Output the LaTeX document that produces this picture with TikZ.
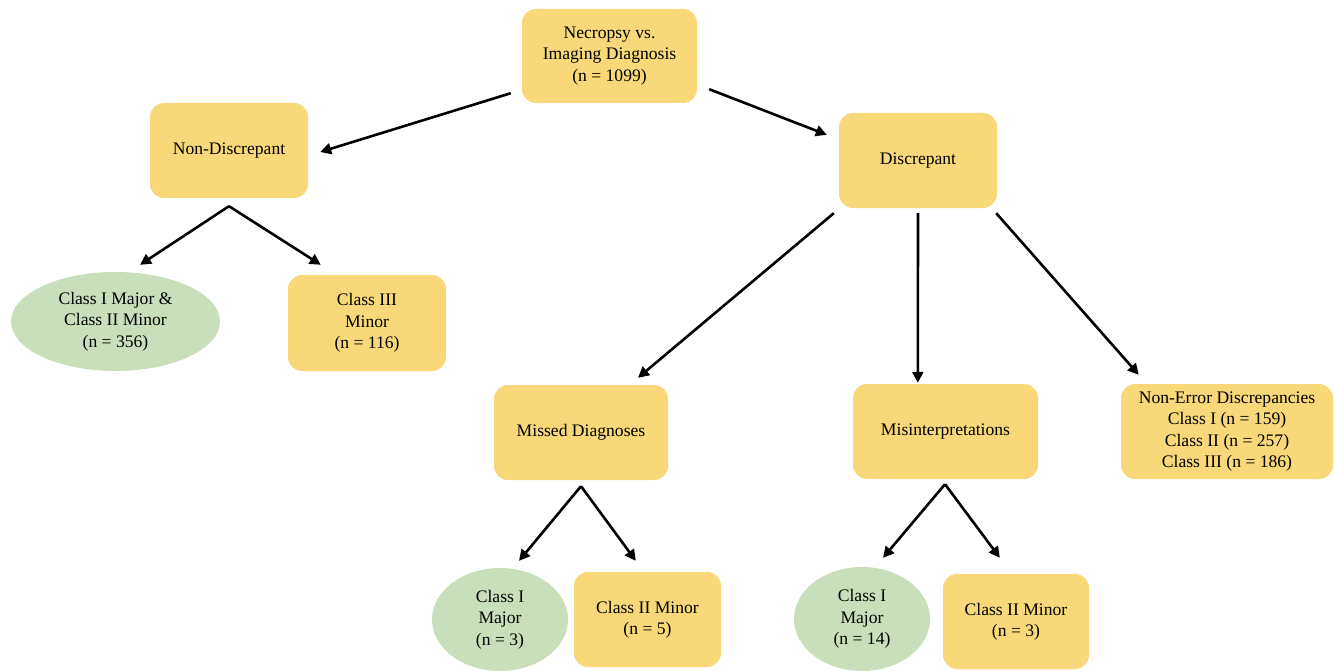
\documentclass[tikz,border=0pt]{standalone}
\usepackage{fontspec}
\setmainfont{Liberation Serif}
\usetikzlibrary{shapes.geometric,arrows.meta}
\definecolor{boxyellow}{RGB}{248,216,120}
\definecolor{ellgreen}{RGB}{201,222,186}
\begin{document}
\begin{tikzpicture}[x=1pt,y=-1pt,
  every node/.style={font=\fontsize{17.6}{21.3}\selectfont, align=center, inner sep=0pt},
  ybox/.style={fill=boxyellow, draw=none, rounded corners=14pt, rectangle},
  gell/.style={fill=ellgreen, draw=none, ellipse},
  conn/.style={line width=2.6pt, -{Triangle[length=11pt,width=11pt]}}]
\useasboundingbox (0,0) rectangle (1335,671);
\node[ybox, minimum width=175pt, minimum height=94pt] (top) at (609.5,56) {Necropsy vs.\\Imaging Diagnosis\\(n = 1099)};
\node[ybox, minimum width=158pt, minimum height=95pt] (nondisc) at (229,150.5) {Non-Discrepant};
\node[ybox, minimum width=158pt, minimum height=95pt] (disc) at (918,160.5) {Discrepant};
\node[gell, minimum width=209pt, minimum height=99pt] (c356) at (115.5,321.5) {Class I Major \&\\Class II Minor\\(n = 356)};
\node[ybox, minimum width=158pt, minimum height=96pt] (c116) at (367,323) {Class III\\Minor\\(n = 116)};
\node[ybox, minimum width=174pt, minimum height=95pt] (missed) at (581,432.5) {Missed Diagnoses};
\node[ybox, minimum width=185pt, minimum height=95pt] (misint) at (945.5,431.5) {Misinterpretations};
\node[ybox, minimum width=212pt, minimum height=95pt] (nonerror) at (1227,431.5) {Non-Error Discrepancies\\Class I (n = 159)\\Class II (n = 257)\\Class III (n = 186)};
\node[gell, minimum width=136pt, minimum height=103pt] (e3) at (500,619.5) {Class I\\Major\\(n = 3)};
\node[ybox, minimum width=147pt, minimum height=95pt] (c5) at (647.5,619.5) {Class II Minor\\(n = 5)};
\node[gell, minimum width=136pt, minimum height=104pt] (e14) at (862,619) {Class I\\Major\\(n = 14)};
\node[ybox, minimum width=146pt, minimum height=95pt] (c3) at (1016,621.5) {Class II Minor\\(n = 3)};

\draw[conn] ([shift={(-11,-10)}]top.south west) -- ([shift={(12,1.5)}]nondisc.east);
\draw[conn] ([shift={(12,-14)}]top.south east) -- ([shift={(-12,22)}]disc.north west);
\draw[conn] ([shift={(0,8)}]nondisc.south) -- ([shift={(24.5,-7)}]c356.north);
\draw[conn] ([shift={(0,8)}]nondisc.south) -- ([shift={(33,-10)}]c116.north west);
\draw[conn] ([shift={(-5,5)}]disc.south west) -- ([shift={(57,-7)}]missed.north);
\draw[conn] ([shift={(0,5)}]disc.south) -- ([shift={(65,-1)}]misint.north west);
\draw[conn] ([shift={(-1,5)}]disc.south east) -- ([shift={(18,-9)}]nonerror.north west);
\draw[conn] ([shift={(0,6)}]missed.south) -- ([shift={(19,-7)}]e3.north);
\draw[conn] ([shift={(0,6)}]missed.south) -- ([shift={(62,-11)}]c5.north west);
\draw[conn] ([shift={(-0.5,5)}]misint.south) -- ([shift={(21,-9)}]e14.north);
\draw[conn] ([shift={(-0.5,5)}]misint.south) -- ([shift={(57,-16)}]c3.north west);
\end{tikzpicture}
\end{document}
